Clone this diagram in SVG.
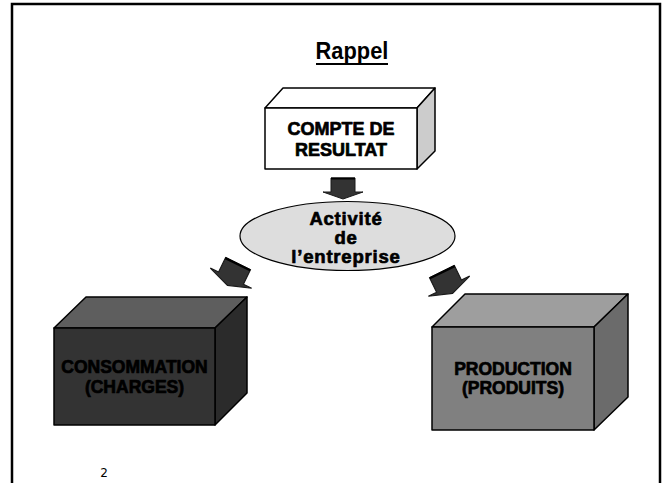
<svg xmlns="http://www.w3.org/2000/svg" width="665" height="483" viewBox="0 0 665 483">
  <style>
    .b { font-family: "Liberation Sans", Arial, sans-serif; font-weight: bold; text-anchor: middle; fill: #000; stroke: #000; stroke-width: 0.7; stroke-linejoin: round; }
    .e { letter-spacing: 0.8px; }
    .t { font-family: "Liberation Sans", Arial, sans-serif; font-weight: bold; text-anchor: middle; fill: #000; }
    .face { stroke: #000; stroke-width: 1.5; stroke-linejoin: round; }
    .arrow { fill: #333333; stroke: #1a1a1a; stroke-width: 1; stroke-linejoin: miter; }
  </style>
  <defs>
    <g id="blockArrow">
      <path class="arrow" d="M -12 -10 L 12 -10 L 12 4 L 20 4 L 0 11 L -20 4 L -12 4 Z"/>
      <line x1="-12" y1="-9.5" x2="12" y2="-9.5" stroke="#000" stroke-width="2"/>
    </g>
  </defs>
  <rect x="0" y="0" width="665" height="483" fill="#fff"/>
  <rect x="12" y="4" width="648" height="520" fill="#fff" stroke="#000" stroke-width="2.5"/>

  <g id="title">
    <text class="t" x="352" y="59" font-size="23" transform="translate(352 0) scale(0.95 1) translate(-352 0)">Rappel</text>
    <line x1="316" y1="64" x2="388" y2="64" stroke="#000" stroke-width="2"/>
  </g>

  <g id="compte-resultat">
    <polygon class="face" fill="#fff" points="265,108 283,88 435,88 417,108"/>
    <polygon class="face" fill="#cccccc" points="417,108 435,88 435,151 417,169"/>
    <rect class="face" fill="#fff" x="265" y="108" width="152" height="61"/>
    <text class="b" x="341" y="135" font-size="18">COMPTE DE</text>
    <text class="b" x="341" y="156" font-size="18">RESULTAT</text>
  </g>

  <g id="activite">
    <ellipse cx="347.5" cy="236" rx="107.5" ry="34.5" fill="#dddddd" stroke="#000" stroke-width="1.2"/>
    <text class="b e" x="346" y="225" font-size="18.5">Activité</text>
    <text class="b e" x="346" y="244" font-size="18.5">de</text>
    <text class="b e" x="346" y="263" font-size="18.5">l’entreprise</text>
  </g>

  <g id="consommation">
    <polygon class="face" fill="#5e5e5e" points="54,328 86,297 247,297 215,328"/>
    <polygon class="face" fill="#2b2b2b" points="215,328 247,297 247,393 215,425"/>
    <rect class="face" fill="#333333" x="54" y="328" width="161" height="97"/>
    <text class="b" x="134.5" y="373" font-size="17.5">CONSOMMATION</text>
    <text class="b" x="134.5" y="393" font-size="17.5">(CHARGES)</text>
  </g>

  <g id="production">
    <polygon class="face" fill="#9e9e9e" points="432,327 465,294 628,294 594,327"/>
    <polygon class="face" fill="#6b6b6b" points="594,327 628,294 628,397 594,430"/>
    <rect class="face" fill="#808080" x="432" y="327" width="162" height="103"/>
    <text class="b" x="513" y="375" font-size="17.5">PRODUCTION</text>
    <text class="b" x="513" y="394" font-size="17.5">(PRODUITS)</text>
  </g>

  <g id="connectors">
    <use href="#blockArrow" transform="translate(343,188)"/>
    <use href="#blockArrow" transform="translate(233,274) rotate(26) scale(1.15)"/>
    <use href="#blockArrow" transform="translate(447,282) rotate(-26) scale(1.15)"/>
  </g>

  <g id="page-number">
    <text x="104" y="477" font-family="DejaVu Sans, sans-serif" font-size="12" text-anchor="middle" fill="#000">2</text>
  </g>
</svg>
